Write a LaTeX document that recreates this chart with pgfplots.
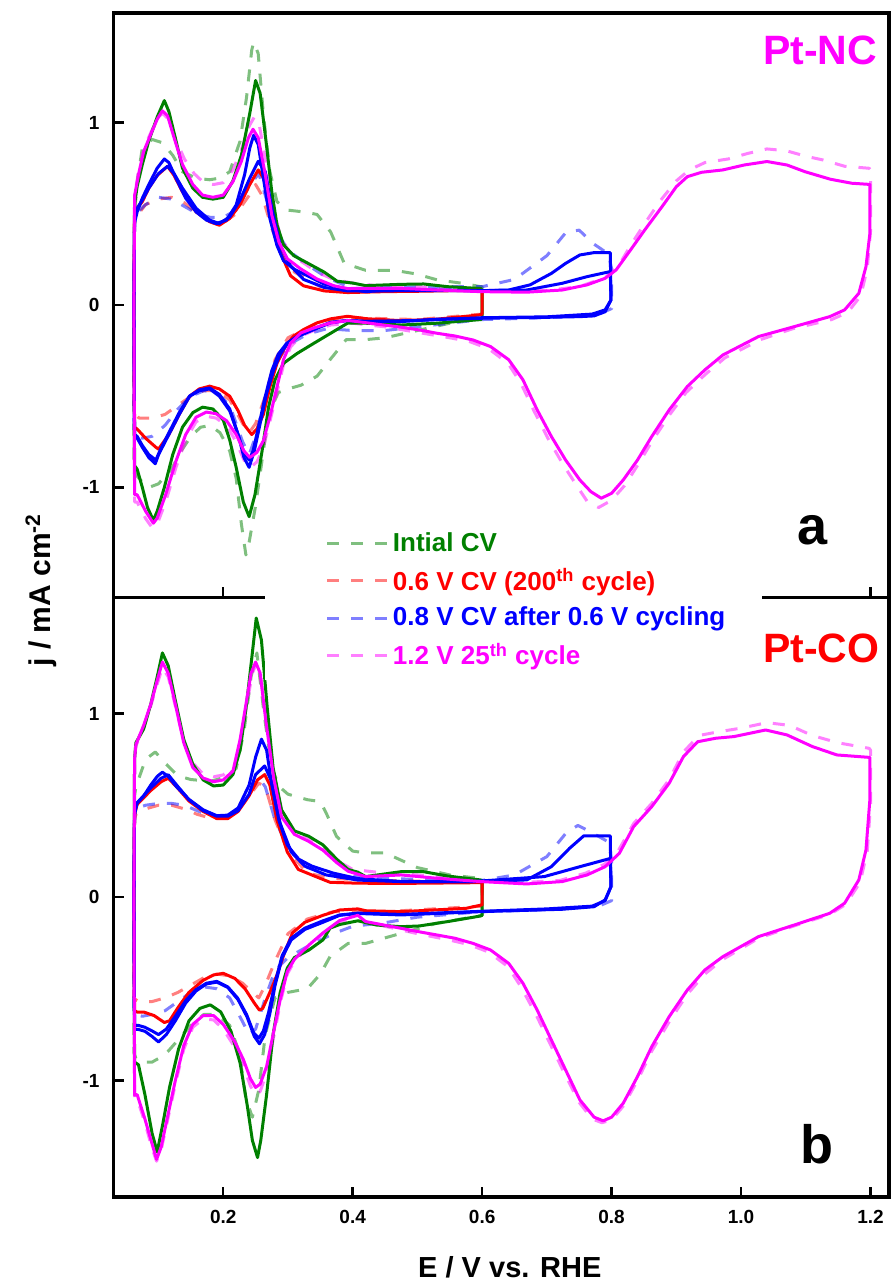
\documentclass[border=0pt]{standalone}
\usepackage{fontspec}
\setmainfont{Liberation Sans}
\usepackage{pgfplots}
\pgfplotsset{compat=1.18}
\definecolor{colG}{RGB}{0,128,0}
\definecolor{colR}{RGB}{255,0,0}
\definecolor{colB}{RGB}{0,0,255}
\definecolor{colM}{RGB}{255,0,255}
\pgfplotsset{
  cvaxis/.style={
    scale only axis, width=387.7pt,
    xmin=0.0306, xmax=1.2286,
    axis line style={line width=1.6pt},
    every tick/.style={line width=1.2pt, black},
    major tick length=5pt,
    tick align=inside,
    xtick pos=bottom, ytick pos=left,
    xtick={0.2,0.4,0.6,0.8,1.0,1.2},
    ytick={-1,0,1}, yticklabels={-1,0,1},
    /pgf/number format/assume math mode=true,
    tick label style={font=\fontsize{9.5}{11}\selectfont\bfseries},
    yticklabel style={xshift=-3.5pt},
    xticklabel style={yshift=-3pt},
    clip=true,
  },
  sol/.style={line width=1.5pt, forget plot, line join=round},
  dsh/.style={line width=1.5pt, opacity=0.5, dash pattern=on 6pt off 6pt, line join=round},
}
\begin{document}
\begin{tikzpicture}
%================ bottom panel (Pt-CO) =================
\begin{axis}[cvaxis, at={(0,0)}, anchor=south west, height=299.75pt,
  ymin=-1.635, ymax=1.632,
  xticklabels={0.2,0.4,0.6,0.8,1.0,1.2},
  xlabel={E / V vs. RHE},
  every axis x label/.style={at={(axis description cs:0.511,-0.118)}, anchor=center, font=\fontsize{14.5}{16}\selectfont\bfseries},
  ylabel={j / mA cm\textsuperscript{-2}},
  every axis y label/.style={at={(axis description cs:-0.0936,1.0125)}, anchor=center, rotate=90, font=\fontsize{15}{17}\selectfont\bfseries},
]
% dashed
\addplot[dsh, color=colG, forget plot] coordinates {(0.062,0) (0.063,0.55) (0.065,0.6) (0.08,0.75) (0.095,0.79) (0.11,0.73) (0.13,0.66) (0.15,0.64) (0.18,0.63) (0.2,0.65) (0.22,0.7) (0.232,0.9) (0.243,1.2) (0.252,1.33) (0.263,1.0) (0.275,0.7) (0.287,0.6) (0.3,0.56) (0.33,0.53) (0.35,0.52) (0.36,0.45) (0.375,0.33) (0.4,0.25) (0.42,0.24) (0.45,0.24) (0.475,0.2) (0.5,0.16) (0.55,0.12) (0.6,0.1) (0.6,-0.1) (0.53,-0.143) (0.475,-0.198) (0.448,-0.225) (0.42,-0.253) (0.393,-0.253) (0.365,-0.325) (0.35,-0.42) (0.33,-0.5) (0.3,-0.52) (0.28,-0.55) (0.265,-0.75) (0.255,-1.05) (0.245,-1.2) (0.235,-1.1) (0.225,-0.85) (0.21,-0.7) (0.19,-0.64) (0.17,-0.64) (0.15,-0.7) (0.13,-0.78) (0.11,-0.86) (0.09,-0.9) (0.075,-0.9) (0.065,-0.88) (0.062,-0.85) (0.062,0)};
\addplot[dsh, color=colR, forget plot] coordinates {(0.062,0) (0.063,0.42) (0.065,0.45) (0.08,0.48) (0.1,0.5) (0.12,0.5) (0.14,0.48) (0.16,0.45) (0.18,0.43) (0.2,0.43) (0.22,0.46) (0.24,0.55) (0.255,0.62) (0.265,0.6) (0.28,0.42) (0.3,0.25) (0.33,0.13) (0.37,0.1) (0.45,0.09) (0.6,0.08) (0.6,-0.05) (0.45,-0.08) (0.37,-0.08) (0.33,-0.12) (0.3,-0.2) (0.28,-0.35) (0.265,-0.48) (0.255,-0.55) (0.245,-0.52) (0.23,-0.47) (0.21,-0.43) (0.19,-0.42) (0.17,-0.44) (0.15,-0.48) (0.13,-0.52) (0.11,-0.55) (0.09,-0.57) (0.07,-0.57) (0.065,-0.56) (0.062,-0.55) (0.062,0)};
\addplot[dsh, color=colB, forget plot] coordinates {(0.062,0) (0.063,0.44) (0.065,0.48) (0.08,0.5) (0.1,0.51) (0.12,0.51) (0.14,0.5) (0.16,0.47) (0.18,0.44) (0.2,0.44) (0.22,0.47) (0.24,0.56) (0.255,0.65) (0.265,0.6) (0.28,0.42) (0.3,0.27) (0.33,0.16) (0.37,0.12) (0.45,0.1) (0.6,0.09) (0.65,0.12) (0.7,0.22) (0.73,0.35) (0.748,0.39) (0.77,0.35) (0.795,0.3) (0.8,0.2) (0.8,-0.02) (0.78,-0.05) (0.7,-0.07) (0.6,-0.08) (0.5,-0.11) (0.45,-0.14) (0.4,-0.16) (0.37,-0.2) (0.33,-0.27) (0.3,-0.33) (0.28,-0.4) (0.265,-0.55) (0.25,-0.72) (0.24,-0.75) (0.23,-0.68) (0.21,-0.55) (0.19,-0.5) (0.17,-0.49) (0.15,-0.52) (0.13,-0.57) (0.11,-0.62) (0.09,-0.64) (0.075,-0.65) (0.065,-0.64) (0.062,-0.62) (0.062,0)};
\addplot[dsh, color=colM, forget plot] coordinates {(0.062,0) (0.063,0.75) (0.065,0.82) (0.077,0.93) (0.088,1.04) (0.098,1.16) (0.106,1.25) (0.115,1.2) (0.126,1.04) (0.139,0.85) (0.153,0.73) (0.169,0.67) (0.185,0.655) (0.2,0.665) (0.218,0.72) (0.228,0.88) (0.238,1.08) (0.245,1.22) (0.251,1.27) (0.258,1.2) (0.267,0.95) (0.279,0.66) (0.291,0.46) (0.31,0.36) (0.332,0.32) (0.354,0.27) (0.375,0.2) (0.4,0.15) (0.45,0.13) (0.5,0.12) (0.6,0.09) (0.67,0.08) (0.72,0.09) (0.76,0.13) (0.79,0.18) (0.81,0.25) (0.834,0.4) (0.862,0.51) (0.889,0.64) (0.911,0.79) (0.935,0.88) (0.965,0.9) (1.0,0.92) (1.04,0.95) (1.075,0.935) (1.11,0.88) (1.15,0.84) (1.198,0.81) (1.2,0.8) (1.2,0.5) (1.195,0.25) (1.184,0.08) (1.162,-0.04) (1.137,-0.095) (1.08,-0.16) (1.027,-0.225) (0.972,-0.34) (0.944,-0.42) (0.917,-0.53) (0.889,-0.68) (0.862,-0.84) (0.84,-1.0) (0.818,-1.14) (0.8,-1.215) (0.785,-1.23) (0.77,-1.21) (0.75,-1.12) (0.727,-0.96) (0.705,-0.8) (0.683,-0.64) (0.66,-0.49) (0.64,-0.38) (0.61,-0.3) (0.58,-0.26) (0.55,-0.235) (0.5,-0.2) (0.45,-0.16) (0.4,-0.12) (0.38,-0.135) (0.354,-0.2) (0.332,-0.27) (0.31,-0.35) (0.299,-0.42) (0.288,-0.58) (0.277,-0.78) (0.267,-0.96) (0.257,-1.06) (0.25,-1.08) (0.242,-1.03) (0.231,-0.92) (0.218,-0.82) (0.2,-0.72) (0.185,-0.67) (0.169,-0.665) (0.153,-0.71) (0.139,-0.83) (0.126,-1.02) (0.112,-1.25) (0.104,-1.38) (0.097,-1.44) (0.09,-1.37) (0.079,-1.23) (0.067,-1.1) (0.063,-1.1) (0.062,0)};
% solid
\addplot[sol, color=colG] coordinates {(0.062,0) (0.063,0.75) (0.065,0.84) (0.077,0.915) (0.088,1.05) (0.098,1.2) (0.106,1.33) (0.115,1.26) (0.126,1.07) (0.139,0.858) (0.153,0.724) (0.169,0.638) (0.185,0.605) (0.2,0.61) (0.215,0.667) (0.226,0.80) (0.236,1.05) (0.244,1.30) (0.251,1.52) (0.259,1.40) (0.268,1.03) (0.277,0.705) (0.29,0.475) (0.31,0.36) (0.332,0.331) (0.354,0.284) (0.375,0.207) (0.393,0.15) (0.408,0.135) (0.42,0.111) (0.475,0.138) (0.509,0.138) (0.547,0.114) (0.597,0.093) (0.6,0.09) (0.6,-0.1) (0.597,-0.104) (0.547,-0.134) (0.503,-0.158) (0.475,-0.162) (0.437,-0.153) (0.408,-0.13) (0.38,-0.15) (0.365,-0.17) (0.354,-0.234) (0.332,-0.29) (0.31,-0.33) (0.299,-0.387) (0.288,-0.52) (0.277,-0.75) (0.267,-1.077) (0.258,-1.326) (0.253,-1.42) (0.245,-1.326) (0.237,-1.134) (0.226,-0.904) (0.212,-0.732) (0.196,-0.626) (0.18,-0.588) (0.164,-0.607) (0.147,-0.675) (0.131,-0.828) (0.117,-1.038) (0.107,-1.23) (0.098,-1.39) (0.09,-1.287) (0.079,-1.077) (0.069,-0.914) (0.063,-0.9) (0.062,0)};
\addplot[sol, color=colR] coordinates {(0.062,0) (0.063,0.45) (0.067,0.504) (0.088,0.58) (0.104,0.628) (0.115,0.647) (0.128,0.6) (0.147,0.523) (0.169,0.466) (0.19,0.427) (0.207,0.427) (0.223,0.466) (0.24,0.552) (0.253,0.638) (0.264,0.667) (0.272,0.61) (0.283,0.418) (0.299,0.245) (0.316,0.15) (0.343,0.111) (0.365,0.08) (0.408,0.075) (0.475,0.074) (0.597,0.078) (0.6,0.078) (0.6,-0.043) (0.575,-0.062) (0.475,-0.08) (0.42,-0.075) (0.408,-0.065) (0.38,-0.071) (0.354,-0.1) (0.326,-0.138) (0.307,-0.196) (0.294,-0.31) (0.283,-0.425) (0.272,-0.52) (0.261,-0.607) (0.256,-0.617) (0.248,-0.578) (0.234,-0.502) (0.218,-0.444) (0.2,-0.416) (0.185,-0.425) (0.169,-0.454) (0.147,-0.52) (0.131,-0.598) (0.117,-0.675) (0.109,-0.684) (0.093,-0.646) (0.077,-0.627) (0.067,-0.627) (0.063,-0.62) (0.062,0)};
\addplot[sol, color=colB] coordinates {(0.062,0) (0.063,0.45) (0.067,0.513) (0.077,0.55) (0.088,0.61) (0.098,0.657) (0.106,0.68) (0.115,0.657) (0.128,0.6) (0.147,0.532) (0.169,0.475) (0.19,0.443) (0.207,0.446) (0.223,0.485) (0.24,0.61) (0.25,0.762) (0.259,0.86) (0.267,0.8) (0.275,0.61) (0.286,0.418) (0.299,0.283) (0.316,0.207) (0.337,0.168) (0.37,0.13) (0.408,0.1) (0.475,0.084) (0.597,0.084) (0.669,0.093) (0.707,0.165) (0.735,0.265) (0.757,0.333) (0.798,0.333) (0.799,0.056) (0.79,-0.016) (0.773,-0.053) (0.724,-0.067) (0.597,-0.08) (0.475,-0.098) (0.408,-0.09) (0.38,-0.1) (0.354,-0.138) (0.326,-0.177) (0.305,-0.234) (0.291,-0.33) (0.28,-0.483) (0.272,-0.636) (0.264,-0.75) (0.256,-0.8) (0.248,-0.76) (0.237,-0.655) (0.223,-0.56) (0.207,-0.493) (0.19,-0.464) (0.174,-0.474) (0.158,-0.512) (0.142,-0.578) (0.126,-0.675) (0.112,-0.75) (0.1,-0.79) (0.09,-0.76) (0.079,-0.732) (0.069,-0.722) (0.063,-0.72) (0.062,0)};
\addplot[sol, color=colB] coordinates {(0.062,0) (0.063,0.47) (0.067,0.513) (0.088,0.594) (0.104,0.647) (0.115,0.666) (0.128,0.61) (0.147,0.53) (0.169,0.47) (0.19,0.44) (0.207,0.44) (0.223,0.47) (0.24,0.56) (0.25,0.667) (0.264,0.714) (0.275,0.628) (0.288,0.4) (0.305,0.245) (0.326,0.168) (0.359,0.12) (0.408,0.092) (0.475,0.084) (0.586,0.084) (0.696,0.111) (0.751,0.165) (0.798,0.21) (0.799,0.056) (0.79,-0.02) (0.77,-0.05) (0.7,-0.065) (0.6,-0.078) (0.475,-0.095) (0.408,-0.088) (0.38,-0.098) (0.354,-0.13) (0.326,-0.17) (0.305,-0.225) (0.291,-0.32) (0.28,-0.47) (0.27,-0.63) (0.262,-0.73) (0.255,-0.77) (0.247,-0.74) (0.236,-0.64) (0.222,-0.55) (0.207,-0.49) (0.19,-0.46) (0.174,-0.47) (0.158,-0.505) (0.142,-0.565) (0.126,-0.65) (0.112,-0.72) (0.1,-0.75) (0.09,-0.73) (0.079,-0.71) (0.069,-0.7) (0.063,-0.7) (0.062,0)};
\addplot[sol, color=colM] coordinates {(0.062,0) (0.063,0.75) (0.065,0.83) (0.077,0.935) (0.088,1.05) (0.098,1.18) (0.106,1.28) (0.115,1.22) (0.126,1.05) (0.139,0.84) (0.153,0.705) (0.169,0.648) (0.185,0.628) (0.2,0.638) (0.215,0.686) (0.226,0.858) (0.236,1.07) (0.243,1.22) (0.25,1.28) (0.257,1.22) (0.266,0.954) (0.278,0.648) (0.29,0.437) (0.31,0.341) (0.332,0.303) (0.354,0.255) (0.375,0.188) (0.393,0.14) (0.42,0.111) (0.475,0.12) (0.53,0.102) (0.597,0.084) (0.669,0.071) (0.724,0.084) (0.762,0.12) (0.79,0.165) (0.812,0.238) (0.834,0.383) (0.862,0.492) (0.889,0.62) (0.911,0.765) (0.933,0.846) (0.961,0.865) (0.989,0.874) (1.038,0.91) (1.071,0.883) (1.11,0.82) (1.148,0.774) (1.197,0.761) (1.199,0.761) (1.199,0.528) (1.193,0.256) (1.182,0.093) (1.16,-0.034) (1.137,-0.089) (1.082,-0.153) (1.027,-0.216) (0.972,-0.325) (0.944,-0.398) (0.917,-0.507) (0.889,-0.652) (0.862,-0.816) (0.84,-0.979) (0.818,-1.124) (0.8,-1.2) (0.787,-1.22) (0.773,-1.2) (0.751,-1.106) (0.729,-0.943) (0.707,-0.78) (0.685,-0.616) (0.663,-0.47) (0.641,-0.362) (0.613,-0.289) (0.586,-0.253) (0.558,-0.225) (0.53,-0.207) (0.503,-0.19) (0.475,-0.171) (0.42,-0.134) (0.408,-0.1) (0.38,-0.128) (0.354,-0.196) (0.332,-0.263) (0.31,-0.34) (0.299,-0.406) (0.288,-0.56) (0.277,-0.75) (0.267,-0.924) (0.257,-1.02) (0.25,-1.038) (0.242,-0.99) (0.231,-0.885) (0.218,-0.79) (0.2,-0.694) (0.185,-0.646) (0.169,-0.646) (0.153,-0.694) (0.139,-0.81) (0.126,-1.0) (0.112,-1.23) (0.104,-1.364) (0.097,-1.43) (0.09,-1.345) (0.079,-1.21) (0.067,-1.077) (0.063,-1.08) (0.062,0)};
\node[font=\fontsize{20.5}{22}\selectfont\bfseries, text=colR, anchor=base] at (axis cs:1.124,1.28) {Pt-CO};
\node[font=\fontsize{27}{29}\selectfont\bfseries, anchor=base] at (axis cs:1.117,-1.45) {b};
\end{axis}
%================ top panel (Pt-NC) =================
\begin{axis}[cvaxis, at={(0,299.75pt)}, anchor=south west, height=292.25pt,
  ymin=-1.603, ymax=1.60,
  xticklabels={},
  legend cell align=left,
  legend style={at={(axis description cs:0.1953,0.1326)}, anchor=north west, fill=white, draw=none,
    inner xsep=16.5pt, inner ysep=4pt, row sep=3pt,
    font=\fontsize{13}{15}\selectfont\bfseries},
  legend image code/.code={\path[draw=none] (0pt,0pt) -- (44.5pt,0pt); \draw[#1] (14.5pt,0pt) -- (44.5pt,0pt);},
]
% dashed
\addplot[dsh, color=colG] coordinates {(0.062,0) (0.063,0.5) (0.068,0.7) (0.075,0.86) (0.09,0.907) (0.106,0.889) (0.122,0.82) (0.137,0.73) (0.158,0.695) (0.179,0.686) (0.194,0.695) (0.21,0.73) (0.226,0.898) (0.236,1.138) (0.244,1.396) (0.247,1.44) (0.254,1.378) (0.262,1.046) (0.272,0.732) (0.283,0.566) (0.299,0.52) (0.324,0.51) (0.345,0.496) (0.366,0.40) (0.387,0.228) (0.42,0.19) (0.464,0.19) (0.498,0.17) (0.531,0.137) (0.569,0.119) (0.598,0.10) (0.6,0.1) (0.6,-0.06) (0.55,-0.1) (0.5,-0.14) (0.45,-0.18) (0.42,-0.19) (0.39,-0.19) (0.365,-0.3) (0.345,-0.39) (0.32,-0.44) (0.3,-0.46) (0.285,-0.48) (0.27,-0.6) (0.26,-0.85) (0.25,-1.1) (0.24,-1.3) (0.235,-1.37) (0.228,-1.2) (0.22,-0.95) (0.21,-0.8) (0.195,-0.7) (0.18,-0.66) (0.165,-0.67) (0.15,-0.72) (0.135,-0.8) (0.12,-0.9) (0.1,-0.98) (0.085,-1.0) (0.075,-0.97) (0.065,-0.93) (0.062,-0.9) (0.062,0)};
\addlegendentry{\textcolor{colG}{Intial CV}}
\addplot[dsh, color=colR] coordinates {(0.062,0) (0.063,0.45) (0.065,0.48) (0.08,0.55) (0.1,0.58) (0.12,0.59) (0.14,0.56) (0.16,0.5) (0.18,0.46) (0.2,0.45) (0.22,0.5) (0.24,0.6) (0.25,0.66) (0.26,0.6) (0.275,0.42) (0.29,0.28) (0.31,0.18) (0.35,0.1) (0.4,0.08) (0.5,0.08) (0.6,0.08) (0.6,-0.05) (0.5,-0.08) (0.4,-0.07) (0.35,-0.09) (0.3,-0.18) (0.28,-0.3) (0.265,-0.5) (0.25,-0.65) (0.24,-0.7) (0.23,-0.65) (0.21,-0.52) (0.19,-0.47) (0.17,-0.47) (0.15,-0.5) (0.13,-0.55) (0.11,-0.6) (0.09,-0.62) (0.07,-0.62) (0.065,-0.6) (0.062,-0.58) (0.062,0)};
\addlegendentry{\textcolor{colR}{0.6 V CV (200\textsuperscript{th} cycle)}}
\addplot[dsh, color=colB] coordinates {(0.062,0) (0.063,0.45) (0.065,0.5) (0.08,0.55) (0.1,0.59) (0.12,0.58) (0.14,0.54) (0.16,0.5) (0.18,0.48) (0.2,0.48) (0.22,0.52) (0.24,0.65) (0.255,0.72) (0.265,0.6) (0.28,0.42) (0.3,0.3) (0.33,0.22) (0.36,0.15) (0.4,0.09) (0.5,0.1) (0.6,0.1) (0.65,0.14) (0.7,0.27) (0.73,0.40) (0.75,0.41) (0.77,0.34) (0.795,0.28) (0.8,0.2) (0.8,-0.02) (0.78,-0.05) (0.7,-0.07) (0.6,-0.08) (0.5,-0.12) (0.45,-0.14) (0.4,-0.14) (0.36,-0.13) (0.33,-0.16) (0.3,-0.22) (0.28,-0.33) (0.265,-0.5) (0.25,-0.72) (0.24,-0.82) (0.23,-0.75) (0.21,-0.55) (0.19,-0.48) (0.17,-0.47) (0.15,-0.5) (0.13,-0.57) (0.11,-0.66) (0.09,-0.72) (0.075,-0.73) (0.065,-0.72) (0.062,-0.7) (0.062,0)};
\addlegendentry{\textcolor{colB}{0.8 V CV after 0.6 V cycling}}
\addplot[dsh, color=colM] coordinates {(0.062,0) (0.063,0.6) (0.07,0.75) (0.08,0.88) (0.09,0.96) (0.1,1.03) (0.106,1.05) (0.115,1.02) (0.125,0.92) (0.14,0.8) (0.155,0.72) (0.17,0.67) (0.185,0.66) (0.2,0.67) (0.215,0.74) (0.228,0.85) (0.24,0.98) (0.248,1.03) (0.256,0.98) (0.266,0.78) (0.276,0.55) (0.288,0.38) (0.3,0.3) (0.32,0.24) (0.345,0.18) (0.37,0.14) (0.4,0.12) (0.45,0.1) (0.5,0.1) (0.6,0.08) (0.7,0.08) (0.75,0.1) (0.79,0.15) (0.81,0.21) (0.83,0.33) (0.85,0.44) (0.875,0.57) (0.9,0.68) (0.92,0.74) (0.944,0.78) (0.98,0.8) (1.01,0.83) (1.04,0.855) (1.07,0.845) (1.1,0.815) (1.126,0.795) (1.16,0.76) (1.198,0.749) (1.2,0.74) (1.2,0.4) (1.195,0.2) (1.185,0.05) (1.165,-0.04) (1.14,-0.08) (1.08,-0.13) (1.03,-0.19) (0.975,-0.29) (0.945,-0.38) (0.915,-0.48) (0.89,-0.6) (0.862,-0.75) (0.84,-0.88) (0.82,-0.99) (0.8,-1.07) (0.78,-1.11) (0.763,-1.08) (0.748,-1.0) (0.726,-0.88) (0.703,-0.74) (0.68,-0.58) (0.66,-0.43) (0.64,-0.32) (0.61,-0.24) (0.58,-0.2) (0.55,-0.18) (0.5,-0.15) (0.45,-0.12) (0.4,-0.1) (0.366,-0.11) (0.34,-0.14) (0.32,-0.17) (0.304,-0.23) (0.293,-0.33) (0.283,-0.48) (0.272,-0.64) (0.262,-0.78) (0.252,-0.86) (0.242,-0.89) (0.232,-0.85) (0.22,-0.75) (0.205,-0.66) (0.189,-0.62) (0.174,-0.61) (0.158,-0.64) (0.142,-0.74) (0.127,-0.89) (0.111,-1.08) (0.098,-1.2) (0.09,-1.22) (0.08,-1.17) (0.067,-1.08) (0.063,-1.08) (0.062,0)};
\addlegendentry{\textcolor{colM}{1.2 V 25\textsuperscript{th} cycle}}
% solid
\addplot[sol, color=colG] coordinates {(0.062,0) (0.063,0.55) (0.067,0.65) (0.075,0.77) (0.085,0.90) (0.098,1.03) (0.109,1.12) (0.116,1.06) (0.127,0.90) (0.137,0.75) (0.153,0.64) (0.168,0.59) (0.184,0.58) (0.200,0.59) (0.215,0.68) (0.228,0.82) (0.241,1.05) (0.250,1.23) (0.257,1.16) (0.266,0.90) (0.275,0.62) (0.283,0.44) (0.293,0.33) (0.309,0.27) (0.330,0.23) (0.356,0.18) (0.376,0.13) (0.40,0.12) (0.42,0.106) (0.475,0.113) (0.51,0.115) (0.547,0.10) (0.598,0.09) (0.600,0.08) (0.600,-0.07) (0.598,-0.08) (0.53,-0.10) (0.475,-0.11) (0.42,-0.10) (0.392,-0.10) (0.366,-0.155) (0.340,-0.21) (0.314,-0.266) (0.293,-0.32) (0.280,-0.41) (0.270,-0.56) (0.260,-0.80) (0.249,-1.04) (0.240,-1.16) (0.231,-1.08) (0.220,-0.89) (0.210,-0.74) (0.200,-0.63) (0.184,-0.57) (0.168,-0.56) (0.153,-0.59) (0.137,-0.67) (0.122,-0.82) (0.109,-1.0) (0.098,-1.13) (0.092,-1.18) (0.083,-1.11) (0.075,-1.0) (0.067,-0.90) (0.063,-0.88) (0.062,0)};
\addplot[sol, color=colR] coordinates {(0.062,0) (0.063,0.50) (0.067,0.53) (0.075,0.566) (0.085,0.64) (0.098,0.71) (0.114,0.76) (0.124,0.71) (0.137,0.62) (0.158,0.51) (0.179,0.456) (0.194,0.437) (0.21,0.474) (0.226,0.55) (0.241,0.66) (0.254,0.74) (0.265,0.68) (0.275,0.474) (0.288,0.29) (0.304,0.16) (0.324,0.105) (0.356,0.077) (0.392,0.068) (0.45,0.073) (0.5,0.075) (0.55,0.078) (0.598,0.08) (0.600,0.08) (0.600,-0.05) (0.595,-0.055) (0.53,-0.078) (0.475,-0.086) (0.42,-0.075) (0.392,-0.062) (0.366,-0.076) (0.345,-0.098) (0.324,-0.135) (0.309,-0.17) (0.296,-0.227) (0.283,-0.32) (0.272,-0.45) (0.262,-0.60) (0.252,-0.68) (0.244,-0.71) (0.233,-0.66) (0.223,-0.58) (0.21,-0.50) (0.194,-0.46) (0.179,-0.445) (0.163,-0.46) (0.148,-0.50) (0.132,-0.60) (0.116,-0.71) (0.10,-0.79) (0.096,-0.78) (0.08,-0.73) (0.067,-0.68) (0.063,-0.67) (0.062,0)};
\addplot[sol, color=colB] coordinates {(0.062,0) (0.063,0.45) (0.067,0.51) (0.075,0.585) (0.085,0.66) (0.098,0.75) (0.109,0.80) (0.116,0.78) (0.127,0.695) (0.142,0.585) (0.158,0.51) (0.174,0.465) (0.189,0.446) (0.205,0.465) (0.22,0.548) (0.233,0.714) (0.241,0.86) (0.247,0.93) (0.254,0.88) (0.262,0.695) (0.272,0.474) (0.283,0.326) (0.293,0.243) (0.309,0.197) (0.33,0.16) (0.356,0.114) (0.392,0.087) (0.42,0.073) (0.475,0.086) (0.53,0.082) (0.597,0.078) (0.641,0.082) (0.674,0.11) (0.707,0.173) (0.729,0.228) (0.751,0.274) (0.773,0.287) (0.798,0.287) (0.799,0.027) (0.79,-0.037) (0.773,-0.06) (0.751,-0.064) (0.696,-0.068) (0.597,-0.073) (0.53,-0.078) (0.475,-0.091) (0.42,-0.09) (0.392,-0.085) (0.366,-0.098) (0.34,-0.135) (0.317,-0.17) (0.298,-0.218) (0.288,-0.27) (0.278,-0.356) (0.267,-0.485) (0.257,-0.65) (0.248,-0.80) (0.24,-0.89) (0.232,-0.836) (0.223,-0.71) (0.21,-0.58) (0.194,-0.50) (0.179,-0.46) (0.163,-0.47) (0.148,-0.50) (0.132,-0.60) (0.116,-0.71) (0.10,-0.82) (0.095,-0.87) (0.085,-0.836) (0.075,-0.78) (0.067,-0.73) (0.063,-0.72) (0.062,0)};
\addplot[sol, color=colB] coordinates {(0.062,0) (0.063,0.48) (0.067,0.53) (0.075,0.575) (0.085,0.64) (0.1,0.72) (0.114,0.76) (0.124,0.72) (0.137,0.64) (0.158,0.53) (0.179,0.465) (0.194,0.446) (0.21,0.483) (0.226,0.575) (0.241,0.695) (0.254,0.787) (0.265,0.73) (0.275,0.53) (0.288,0.326) (0.304,0.215) (0.324,0.14) (0.356,0.096) (0.392,0.077) (0.475,0.078) (0.597,0.078) (0.669,0.082) (0.724,0.119) (0.762,0.155) (0.798,0.183) (0.799,0.027) (0.79,-0.027) (0.77,-0.05) (0.7,-0.065) (0.6,-0.07) (0.5,-0.085) (0.42,-0.09) (0.39,-0.085) (0.366,-0.095) (0.34,-0.13) (0.317,-0.165) (0.298,-0.21) (0.285,-0.27) (0.275,-0.36) (0.265,-0.5) (0.255,-0.66) (0.246,-0.8) (0.24,-0.85) (0.232,-0.81) (0.222,-0.7) (0.21,-0.57) (0.194,-0.49) (0.179,-0.455) (0.163,-0.465) (0.148,-0.5) (0.132,-0.59) (0.116,-0.7) (0.102,-0.8) (0.096,-0.85) (0.085,-0.82) (0.075,-0.77) (0.067,-0.72) (0.063,-0.71) (0.062,0)};
\addplot[sol, color=colM] coordinates {(0.062,0) (0.063,0.6) (0.07,0.73) (0.077,0.84) (0.088,0.935) (0.098,1.018) (0.106,1.064) (0.114,1.036) (0.124,0.917) (0.137,0.77) (0.153,0.66) (0.168,0.602) (0.184,0.59) (0.2,0.602) (0.215,0.676) (0.228,0.787) (0.239,0.917) (0.246,0.963) (0.254,0.917) (0.265,0.714) (0.275,0.492) (0.286,0.345) (0.299,0.253) (0.32,0.197) (0.345,0.142) (0.371,0.105) (0.392,0.09) (0.42,0.091) (0.475,0.091) (0.53,0.082) (0.597,0.073) (0.669,0.07) (0.724,0.082) (0.762,0.11) (0.79,0.146) (0.807,0.192) (0.829,0.30) (0.851,0.41) (0.878,0.539) (0.9,0.648) (0.917,0.703) (0.939,0.727) (0.972,0.74) (1.005,0.767) (1.04,0.786) (1.071,0.767) (1.099,0.73) (1.138,0.689) (1.171,0.667) (1.197,0.661) (1.199,0.661) (1.199,0.39) (1.193,0.21) (1.182,0.064) (1.16,-0.027) (1.137,-0.064) (1.082,-0.119) (1.027,-0.173) (0.972,-0.274) (0.944,-0.356) (0.917,-0.447) (0.889,-0.575) (0.862,-0.721) (0.84,-0.85) (0.818,-0.959) (0.8,-1.032) (0.784,-1.059) (0.768,-1.023) (0.751,-0.959) (0.729,-0.85) (0.707,-0.721) (0.685,-0.575) (0.663,-0.41) (0.641,-0.30) (0.613,-0.228) (0.586,-0.192) (0.558,-0.17) (0.53,-0.155) (0.503,-0.137) (0.475,-0.122) (0.448,-0.11) (0.42,-0.097) (0.393,-0.085) (0.366,-0.098) (0.34,-0.126) (0.32,-0.153) (0.304,-0.209) (0.293,-0.30) (0.283,-0.45) (0.272,-0.615) (0.262,-0.744) (0.252,-0.808) (0.241,-0.836) (0.232,-0.80) (0.22,-0.71) (0.205,-0.634) (0.189,-0.596) (0.174,-0.587) (0.158,-0.615) (0.142,-0.71) (0.127,-0.855) (0.111,-1.04) (0.098,-1.168) (0.092,-1.196) (0.08,-1.13) (0.067,-1.04) (0.063,-1.04) (0.062,0)};
\node[font=\fontsize{20.5}{22}\selectfont\bfseries, text=colM, anchor=base] at (axis cs:1.122,1.315) {Pt-NC};
\node[font=\fontsize{27}{29}\selectfont\bfseries, anchor=base] at (axis cs:1.111,-1.315) {a};
\end{axis}
\pgfresetboundingbox
\path (-56.8pt,-43pt) rectangle (388.7pt,598.5pt);
\end{tikzpicture}
\end{document}
